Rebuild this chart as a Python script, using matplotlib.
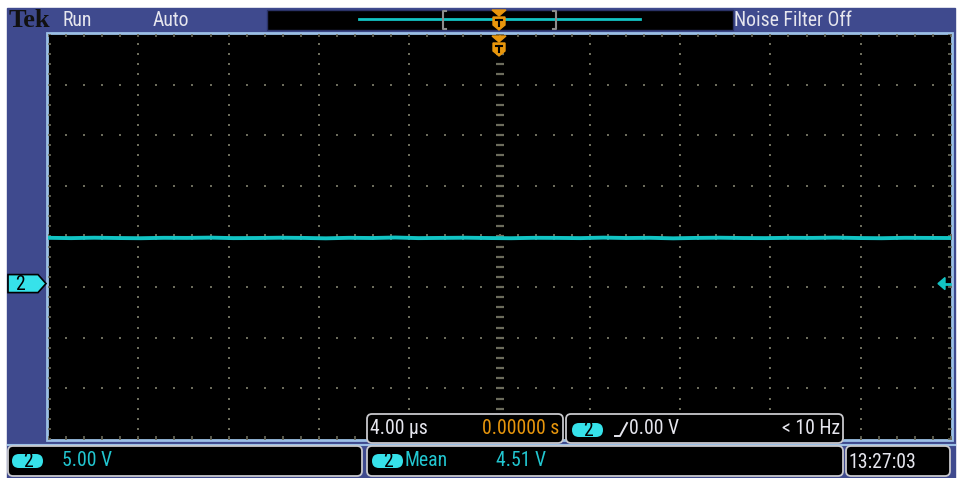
import numpy as np
import matplotlib.pyplot as plt
from matplotlib import font_manager
from matplotlib.patches import Rectangle, FancyBboxPatch, Polygon

# scope settings shown on screen
VOLTS_PER_DIV = 5.0
TIME_PER_DIV = 4.00          # us
CH2_OFFSET_DIV = -0.93       # ground marker position, divisions from centre
MEAN_V = 4.51

# channel 2 samples (V) across the 40 us record
trace_v = [4.52, 4.49, 4.53, 4.50, 4.48, 4.52, 4.51, 4.54, 4.49, 4.50,
           4.53, 4.51, 4.47, 4.52, 4.50, 4.55, 4.49, 4.51, 4.53, 4.50,
           4.48, 4.52, 4.51, 4.49, 4.54, 4.50, 4.52, 4.47, 4.51, 4.53,
           4.50, 4.49, 4.52, 4.51, 4.54, 4.50, 4.48, 4.52, 4.51, 4.50]

top_labels = ["Run", "Auto", "Noise Filter Off"]
status = {"timebase": "4.00 \u00b5s", "trig_pos": "0.00000 s",
          "trig_level": "0.00 V", "trig_freq": "< 10 Hz",
          "ch2_scale": "5.00 V", "meas_name": "Mean", "meas_val": "4.51 V",
          "clock": "13:27:03"}

BLUE = "#3f4a8e"
FRAME = "#9cc0e6"
GRID = "#6c6c5c"
TRACE = "#12c4c4"
CYAN_TXT = "#22c6d0"
PILL = "#36e2ea"
ORANGE = "#e8960c"
WHITE = "#e6e6ee"

# pick a narrow sans if one is around
installed = {f.name for f in font_manager.fontManager.ttflist}
narrow = [n for n in ("Liberation Sans Narrow", "DejaVu Sans Condensed",
                      "Roboto Condensed", "Open Sans Condensed")
          if n in installed]
font = narrow + ["DejaVu Sans"]
FS = 14.2 if narrow else 12

W, H = 957, 478
fig = plt.figure(figsize=(W / 100, H / 100), dpi=100)
fig.patch.set_facecolor("white")


def pixel_axes():
    a = fig.add_axes([0, 0, 1, 1])
    a.set_xlim(0, W)
    a.set_ylim(H, 0)
    a.axis("off")
    a.patch.set_alpha(0)
    return a


# instrument background and graticule frame
bg = pixel_axes()
bg.add_patch(Rectangle((7, 8), 948, 470, color=BLUE, zorder=0))

gx0, gy0, gx1, gy1 = 48, 34, 951, 439
bg.add_patch(Rectangle((gx0 - 1, gy0 - 1), gx1 - gx0 + 2, gy1 - gy0 + 2,
                       facecolor="black", edgecolor=FRAME, lw=2, zorder=1))

gax = fig.add_axes([gx0 / W, (H - gy1) / H, (gx1 - gx0) / W, (gy1 - gy0) / H])
gax.set_xlim(-5, 5)
gax.set_ylim(-4, 4)
gax.axis("off")
gax.patch.set_alpha(0)

# dotted grid lines
fine_x = np.arange(-5, 5.001, 0.2)
fine_y = np.arange(-4, 4.001, 0.2)
for gxv in range(-4, 5):
    if gxv == 0:
        continue
    gax.plot(np.full_like(fine_y, gxv), fine_y, ls="none", marker="s", ms=1.5,
             color=GRID, mew=0)
for gyv in range(-3, 4):
    if gyv == 0:
        continue
    gax.plot(fine_x, np.full_like(fine_x, gyv), ls="none", marker="s", ms=1.5,
             color=GRID, mew=0)

# centre cross with minor ticks, and edge ticks
gax.plot(np.zeros_like(fine_y), fine_y, ls="none", marker="_", ms=6, mew=1.6,
         color=GRID)
gax.plot(fine_x, np.zeros_like(fine_x), ls="none", marker="|", ms=5, mew=1.4,
         color=GRID)
for edge in (-4, 4):
    gax.plot(fine_x, np.full_like(fine_x, edge), ls="none", marker="|", ms=5,
             mew=1.2, color=GRID)
for edge in (-5, 5):
    gax.plot(np.full_like(fine_y, edge), fine_y, ls="none", marker="_", ms=5,
             mew=1.2, color=GRID)

# channel 2 trace
t = np.linspace(-5 * TIME_PER_DIV, 5 * TIME_PER_DIV, len(trace_v))
ydiv = CH2_OFFSET_DIV + np.array(trace_v) / VOLTS_PER_DIV
gax.plot(t / TIME_PER_DIV, ydiv, color=TRACE, lw=2.8, zorder=5)

# everything drawn on top of the graticule
ax = pixel_axes()

# ground marker on the left, trigger level arrow on the right
gnd_y = gy0 + (4 - CH2_OFFSET_DIV) / 8 * (gy1 - gy0)
ax.add_patch(Polygon([(8, gnd_y - 9), (38, gnd_y - 9), (46, gnd_y),
                      (38, gnd_y + 9), (8, gnd_y + 9)],
                     facecolor=PILL, edgecolor="black", lw=1.2, zorder=6))
ax.text(20, gnd_y + 0.5, "2", color="black", fontsize=FS, ha="center",
        va="center", family=font, zorder=7)
ax.add_patch(Polygon([(938, gnd_y), (945, gnd_y - 6), (945, gnd_y + 6)],
                     color=TRACE, zorder=6))
ax.plot([943, 950], [gnd_y, gnd_y], color=TRACE, lw=2, zorder=6)

# top status bar
ax.text(9, 20.5, "Tek", family=["Liberation Serif", "DejaVu Serif"],
        fontweight="bold", fontsize=19, color="#111111", va="center")
ax.text(62, 20, top_labels[0], color=WHITE, fontsize=FS, va="center", family=font)
ax.text(153, 20, top_labels[1], color=WHITE, fontsize=FS, va="center", family=font)
ax.text(734, 20, top_labels[2], color=WHITE, fontsize=FS, va="center", family=font)

ax.add_patch(Rectangle((267, 10), 466, 20, facecolor="black",
                       edgecolor="#2a3266", lw=1, zorder=2))
ax.plot([359, 640], [19, 19], color=TRACE, lw=2, zorder=3)
for bx, d in ((443, 1), (556, -1)):
    ax.plot([bx + 3 * d, bx, bx, bx + 3 * d], [11, 11, 29, 29],
            color="#8c8c8c", lw=1.5, zorder=3)


def trig_marker(cx, ytop):
    ax.add_patch(Polygon([(cx - 7, ytop), (cx + 7, ytop), (cx, ytop + 6)],
                         color=ORANGE, zorder=8))
    ax.add_patch(Polygon([(cx - 6, ytop + 7), (cx + 6, ytop + 7),
                          (cx + 6, ytop + 15), (cx, ytop + 20),
                          (cx - 6, ytop + 15)], color=ORANGE, zorder=8))
    ax.plot([cx - 3, cx + 3], [ytop + 10, ytop + 10], color="black", lw=1.5,
            zorder=9)
    ax.plot([cx, cx], [ytop + 10, ytop + 16], color="black", lw=1.5, zorder=9)


trig_marker(499, 10)
trig_marker(499, 36)


def box(x0, y0, x1, y1):
    ax.add_patch(FancyBboxPatch((x0, y0), x1 - x0, y1 - y0,
                                boxstyle="round,pad=0,rounding_size=5",
                                facecolor="black", edgecolor="#c8c8cc",
                                lw=1.3, zorder=10))


def pill(x0, yc, label):
    ax.add_patch(FancyBboxPatch((x0, yc - 7), 31, 14,
                                boxstyle="round,pad=0,rounding_size=7",
                                facecolor=PILL, edgecolor="none", zorder=11))
    ax.text(x0 + 15.5, yc + 0.5, label, color="black", fontsize=FS, ha="center",
            va="center", family=font, zorder=12)


# lower readout boxes
box(367, 414, 563, 443)
ax.text(370, 429, status["timebase"], color=WHITE, fontsize=FS, va="center",
        family=font, zorder=12)
ax.text(559, 429, status["trig_pos"], color=ORANGE, fontsize=FS, va="center",
        ha="right", family=font, zorder=12)

box(566, 414, 843, 443)
pill(572, 430, "2")
ax.plot([615, 620, 627], [436, 436, 423], color=WHITE, lw=1.4, zorder=12)
ax.text(629, 429, status["trig_level"], color=WHITE, fontsize=FS,
        va="center", family=font, zorder=12)
ax.text(840, 429, status["trig_freq"], color=WHITE, fontsize=FS,
        va="center", ha="right", family=font, zorder=12)

ax.plot([8, 955], [444.5, 444.5], color=FRAME, lw=1.5, zorder=9)

box(8, 446, 362, 476)
pill(12, 461, "2")
ax.text(62, 461, status["ch2_scale"], color=CYAN_TXT, fontsize=FS,
        va="center", family=font, zorder=12)

box(367, 446, 843, 476)
pill(372, 461, "2")
ax.text(405, 461, status["meas_name"], color=CYAN_TXT, fontsize=FS,
        va="center", family=font, zorder=12)
ax.text(496, 461, status["meas_val"], color=CYAN_TXT, fontsize=FS,
        va="center", family=font, zorder=12)

box(846, 446, 950, 476)
ax.text(848, 462, status["clock"], color=WHITE, fontsize=FS, va="center",
        family=font, zorder=12)

fig.savefig("out.png", dpi=100, facecolor=fig.get_facecolor())
